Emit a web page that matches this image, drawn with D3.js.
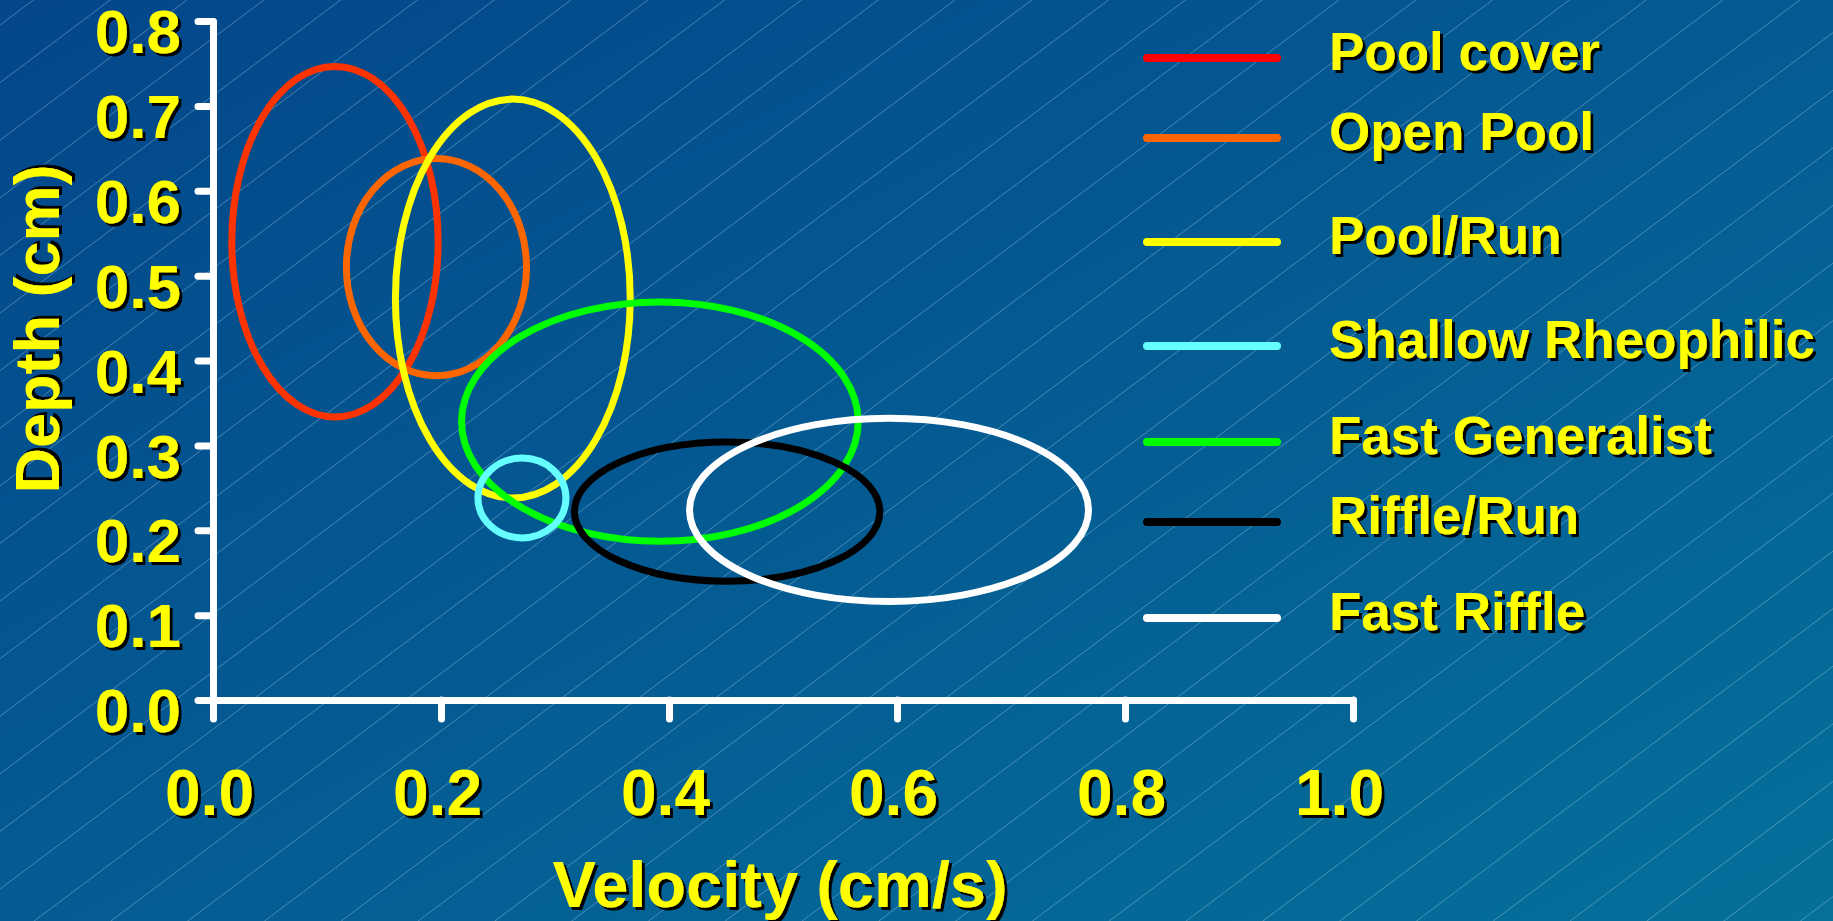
<!DOCTYPE html>
<html><head><meta charset="utf-8">
<script src="https://cdn.jsdelivr.net/npm/d3@7"></script>
<style>html,body{margin:0;padding:0;overflow:hidden;background:#03478a}</style>
</head><body>
<script>
// ---- data ----
const categories = ["Pool cover","Open Pool","Pool/Run","Shallow Rheophilic","Fast Generalist","Riffle/Run","Fast Riffle"];
const velocityCenter = [0.107, 0.196, 0.263, 0.271, 0.392, 0.451, 0.593];
const depthCenter    = [0.540, 0.510, 0.473, 0.238, 0.328, 0.222, 0.224];
const velocityRadius = [0.0905, 0.079, 0.103, 0.0386, 0.174, 0.134, 0.175];
const depthRadius    = [0.2065, 0.128, 0.235, 0.047, 0.141, 0.082, 0.108];
const xTicks = [0.0, 0.2, 0.4, 0.6, 0.8, 1.0];
const yTicks = [0.0, 0.1, 0.2, 0.3, 0.4, 0.5, 0.6, 0.7, 0.8];
const xTitle = "Velocity (cm/s)";
const yTitle = "Depth (cm)";
// ---- styles / layout ----
const ellipseColors = ["#ff3300","#ff6600","#ffff00","#66ffff","#00ff00","#000000","#ffffff"];
const legendColors  = ["#ff0000","#ff6600","#ffff00","#66ffff","#00ff00","#000000","#ffffff"];
const legendRowOffsets = [0, 80, 184, 288, 384, 464, 560];
const drawOrder = [0,1,2,4,3,5,6];

const W = 1833, H = 921;
const FONT = "'Liberation Sans', Arial, Helvetica, sans-serif";
const svg = d3.select("body").append("svg").attr("width", W).attr("height", H);
const defs = svg.append("defs");
const grad = defs.append("linearGradient").attr("id","bg").attr("x1",0).attr("y1",0).attr("x2",1).attr("y2",1);
grad.append("stop").attr("offset","0%").attr("stop-color","#03468a");
grad.append("stop").attr("offset","100%").attr("stop-color","#05709a");
const f = defs.append("filter").attr("id","sh")
  .attr("x","-20%").attr("y","-30%").attr("width","140%").attr("height","160%");
f.append("feDropShadow").attr("dx",3).attr("dy",3).attr("stdDeviation",0).attr("flood-color","#000").attr("flood-opacity",1);

svg.append("rect").attr("width",W).attr("height",H).attr("fill","url(#bg)");
// hatch decoration
const hatch = svg.append("g").attr("stroke","rgba(200,225,245,0.35)").attr("stroke-width",1);
for (let k = 0; k < 42; k++) {
  const c = 25 + 57.6 * k;
  hatch.append("line").attr("x1",0).attr("y1",c).attr("x2",W).attr("y2",c - 0.75 * W);
}

const x = d3.scaleLinear().domain([0, 1]).range([213, 1353]);
const y = d3.scaleLinear().domain([0, 0.8]).range([700, 21]);

// axes
const yAxis = svg.append("g").attr("transform",`translate(${x(0)},0)`)
  .call(d3.axisLeft(y).tickValues(yTicks).tickSize(15).tickSizeOuter(0).tickPadding(17).tickFormat(d3.format(".1f")));
const xAxis = svg.append("g").attr("transform",`translate(0,${y(0)})`)
  .call(d3.axisBottom(x).tickValues(xTicks).tickSize(19).tickSizeOuter(0).tickFormat(d3.format(".1f")));
[yAxis, xAxis].forEach(g => {
  g.select(".domain").attr("stroke","#fff").attr("stroke-width",7).attr("stroke-linecap","round");
  g.selectAll(".tick line").attr("stroke","#fff").attr("stroke-width",7).attr("stroke-linecap","round");
  g.selectAll(".tick text").attr("fill","#ffff00").attr("font-family",FONT).attr("font-weight","bold")
    .attr("filter","url(#sh)");
});
yAxis.selectAll(".tick text").attr("font-size",62).attr("dy","0.51em");
xAxis.selectAll(".tick text").attr("font-size",64).attr("y",115).attr("dy",0)
  .attr("dx", d => d === 1 ? -14 : -4);

// titles
svg.append("text").attr("x", (x(0)+x(1))/2 - 3).attr("y", 907).attr("text-anchor","middle")
  .attr("font-family",FONT).attr("font-weight","bold").attr("font-size",65).attr("fill","#ffff00")
  .attr("filter","url(#sh)").text(xTitle);
svg.append("text").attr("transform",`translate(59,329) rotate(-90)`).attr("text-anchor","middle")
  .attr("font-family",FONT).attr("font-weight","bold").attr("font-size",63).attr("fill","#ffff00")
  .attr("filter","url(#sh)").text(yTitle);

// ellipses
svg.append("g").selectAll("ellipse").data(drawOrder).join("ellipse")
  .attr("cx", i => x(velocityCenter[i]))
  .attr("cy", i => y(depthCenter[i]))
  .attr("rx", i => x(velocityCenter[i] + velocityRadius[i]) - x(velocityCenter[i]))
  .attr("ry", i => y(depthCenter[i] - depthRadius[i]) - y(depthCenter[i]))
  .attr("fill","none").attr("stroke", i => ellipseColors[i]).attr("stroke-width",7);

// legend
const leg = svg.append("g").attr("transform","translate(1147,58)");
const item = leg.selectAll("g").data(categories).join("g").attr("transform",(d,i)=>`translate(0,${legendRowOffsets[i]})`);
item.append("line").attr("x1",0).attr("x2",130).attr("stroke",(d,i)=>legendColors[i])
  .attr("stroke-width",8).attr("stroke-linecap","round");
item.append("text").attr("x",182).attr("y",12).attr("font-family",FONT).attr("font-weight","bold")
  .attr("font-size",53).attr("fill","#ffff00").attr("filter","url(#sh)").text(d=>d);
</script>
</body></html>
